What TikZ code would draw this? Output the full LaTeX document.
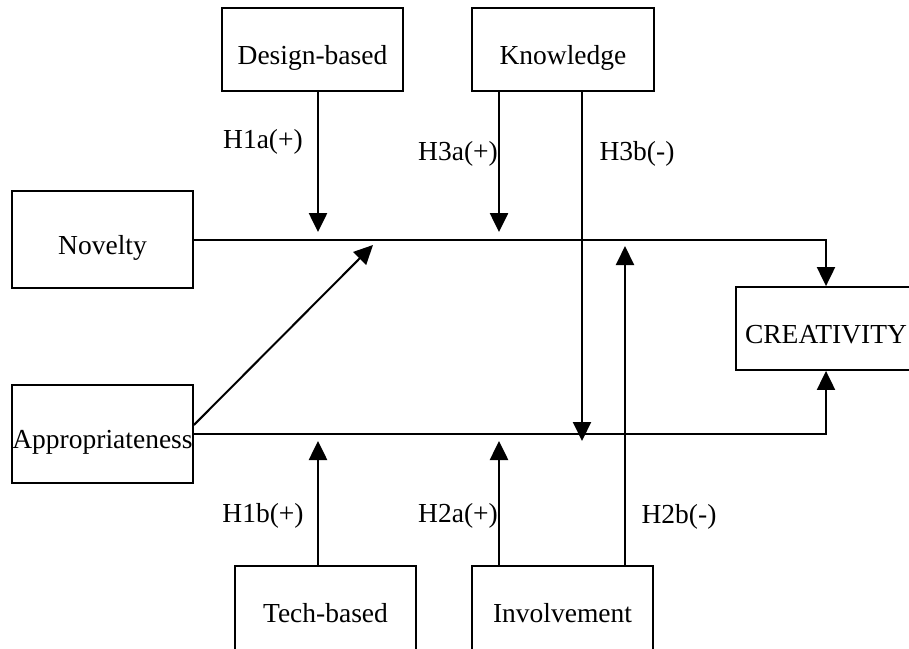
\documentclass[tikz,border=0pt]{standalone}
\usepackage{fontspec}
\setmainfont{Liberation Serif}
\usetikzlibrary{arrows.meta}

\begin{document}
\begin{tikzpicture}[x=1pt,y=-1pt,
    box/.style={draw,line width=1.8pt,inner sep=0pt,text height=29pt,text depth=0pt,
      font=\fontsize{27.5}{30}\selectfont},
    hyp/.style={inner sep=0pt,anchor=base,font=\fontsize{27.5}{30}\selectfont},
    link/.style={line width=2pt,-{Triangle[length=19pt,width=18pt]}},
    mod/.style={line width=2.6pt,-{Triangle[length=19pt,width=18pt]}}]
    \useasboundingbox (0,0) rectangle (909,648);
    % boxes
    \node[box,minimum width=181pt,minimum height=83pt] (des) at (312.5,49.5) {Design-based};
    \node[box,minimum width=182pt,minimum height=83pt] (know) at (563,49.5) {Knowledge};
    \node[box,minimum width=181pt,minimum height=97pt] (nov) at (102.5,239.5) {Novelty};
    \node[box,minimum width=181pt,minimum height=98pt] (app) at (102.5,434) {Appropriateness};
    \node[box,minimum width=180pt,minimum height=83pt] (cre) at (826,328.5) {CREATIVITY};
    \node[box,minimum width=181pt,minimum height=84pt] (tech) at (325.5,608) {Tech-based};
    \node[box,minimum width=181pt,minimum height=84pt] (inv) at (562.5,608) {Involvement};
    % arrow tips
    \coordinate (t1) at (318,232);
    \coordinate (t2) at (499,232);
    \coordinate (t3) at (582,441);
    \coordinate (t4) at (318,441);
    \coordinate (t5) at (499,441);
    \coordinate (t6) at (625,246);
    \coordinate (dtip) at (373,245);
    % main paths
    \draw[link] (nov.east) -| (cre.north);
    \draw[link] (app.east) -| (cre.south);
    \draw[link] ([yshift=9pt]app.east) -- (dtip);
    % moderators
    \draw[mod] (des.south -| t1) -- (t1);
    \draw[mod] (know.south -| t2) -- (t2);
    \draw[link] (know.south -| t3) -- (t3);
    \draw[mod] (tech.north -| t4) -- (t4);
    \draw[mod] (inv.north -| t5) -- (t5);
    \draw[link] (inv.north -| t6) -- (t6);
    % labels
    \node[hyp] (h1a) at (263,148) {H1a(+)};
    \node[hyp] (h3a) at (458,160) {H3a(+)};
    \node[hyp] (h3b) at (637,160) {H3b(-)};
    \node[hyp] (h1b) at (263,522) {H1b(+)};
    \node[hyp] (h2a) at (458,522) {H2a(+)};
    \node[hyp] (h2b) at (679,523) {H2b(-)};
\end{tikzpicture}
\end{document}
